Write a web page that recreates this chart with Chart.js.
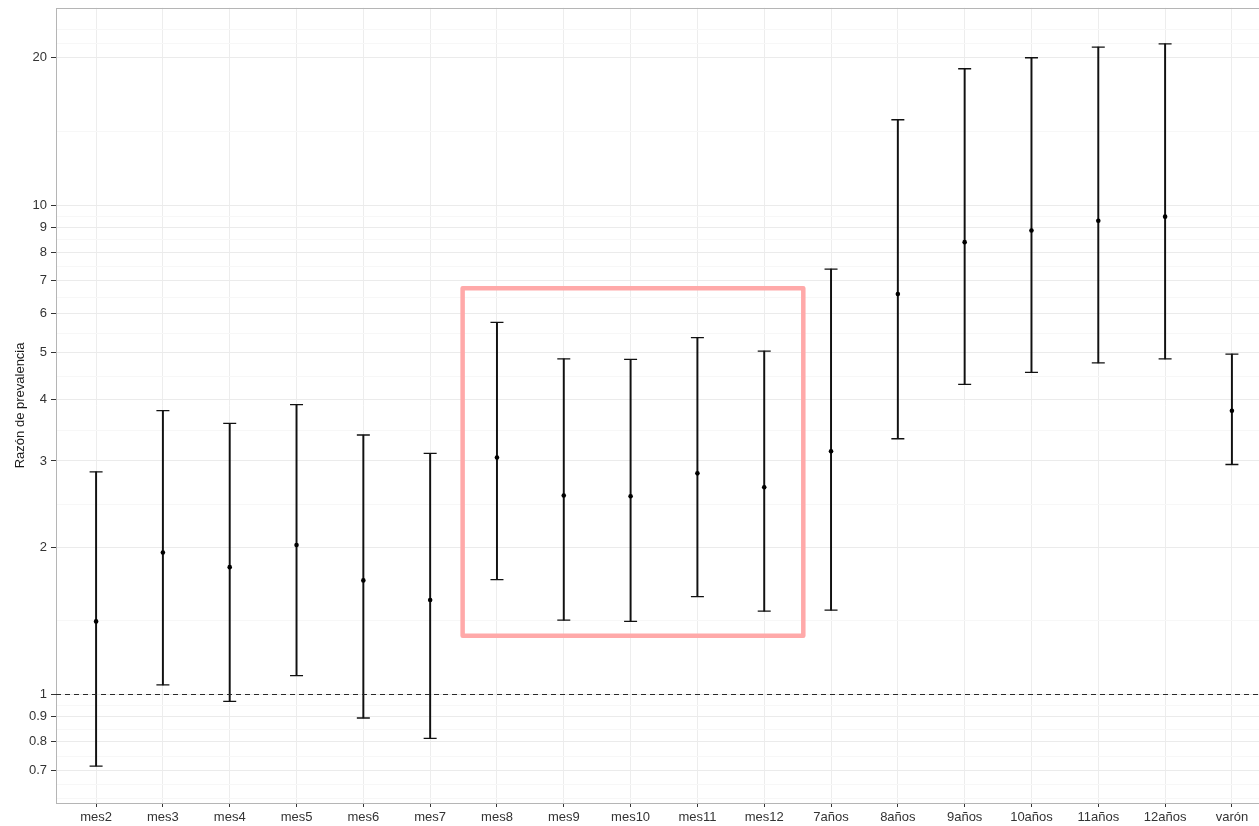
<!DOCTYPE html>
<html>
<head>
<meta charset="utf-8">
<script src="https://cdn.jsdelivr.net/npm/chart.js@4/dist/chart.umd.min.js"></script>
<style>
  html, body { margin: 0; padding: 0; background: #fff; overflow: hidden; }
  #wrap { width: 1280px; height: 826px; }
</style>
</head>
<body>
<div id="wrap"><canvas id="chart" width="1280" height="826"></canvas></div>
<script>
  // categories and estimates (prevalence ratio with CI)
  const categories = ['mes2','mes3','mes4','mes5','mes6','mes7','mes8','mes9','mes10','mes11','mes12',
                      '7años','8años','9años','10años','11años','12años','varón'];
  const estimate = [1.41, 1.95, 1.82, 2.02, 1.71, 1.56, 3.05, 2.55, 2.54, 2.83, 2.65,
                    3.14, 6.58, 8.40, 8.87, 9.29, 9.47, 3.80];
  const lower    = [0.714, 1.046, 0.968, 1.093, 0.895, 0.813, 1.717, 1.419, 1.410, 1.585, 1.480,
                    1.487, 3.33, 4.30, 4.55, 4.76, 4.85, 2.95];
  const upper    = [2.85, 3.80, 3.58, 3.91, 3.39, 3.11, 5.76, 4.85, 4.84, 5.36, 5.03,
                    7.40, 14.94, 18.99, 20.0, 21.03, 21.36, 4.96];

  const yTicks = [0.7, 0.8, 0.9, 1, 2, 3, 4, 5, 6, 7, 8, 9, 10, 20];
  const yMin = 0.604, yMax = 25.3;
  const refLine = 1;
  // highlighted block mes8..mes12 (x in category units, y in ratio units)
  const boxX = [5.486, 10.585];
  const boxY = [1.318, 6.765];

  // ggplot style minor breaks: midpoints in log space, extended one step beyond ends
  const logs = yTicks.map(v => Math.log10(v));
  const step = logs[1] - logs[0];
  const ext = [logs[0] - step, ...logs, logs[logs.length-1] + step];
  let minor = [];
  for(let i=0;i<ext.length-1;i++){
    minor.push((ext[i] + ext[i+1]) / 2);
  }
  minor.push(ext[0], ext[ext.length-1]);
  minor = minor.map(l => Math.pow(10, l)).filter(v => v > yMin && v < yMax);
  const allTicks = yTicks.concat(minor).sort((a,b)=>a-b);
  const isMajor = (v)=> yTicks.some(t => Math.abs(t - v) < 1e-9);

  const xy = (arr)=> arr.map((v,i)=> ({x: i, y: v}));

  const extras = {
    id: 'extras',
    beforeDatasetsDraw(chart){
      const {ctx, chartArea: a} = chart;
      ctx.save();
      ctx.strokeStyle = '#b5b5b5';
      ctx.lineWidth = 1;
      ctx.strokeRect(Math.round(a.left) + 0.5, Math.round(a.top) + 0.5, a.right - a.left, Math.round(a.bottom - a.top));
      ctx.restore();
    },
    afterDatasetsDraw(chart){
      const {ctx, chartArea: a, scales} = chart;
      const y1 = Math.round(scales.y.getPixelForValue(refLine)) + 0.5;
      ctx.save();
      ctx.strokeStyle = '#2a2a2a';
      ctx.lineWidth = 1.2;
      ctx.setLineDash([5, 4]);
      ctx.beginPath();
      ctx.moveTo(a.left, y1);
      ctx.lineTo(a.right, y1);
      ctx.stroke();
      ctx.setLineDash([]);
      const x0 = scales.x.getPixelForValue(boxX[0]);
      const x1 = scales.x.getPixelForValue(boxX[1]);
      const yt = scales.y.getPixelForValue(boxY[1]);
      const yb = scales.y.getPixelForValue(boxY[0]);
      ctx.strokeStyle = '#ffa9a9';
      ctx.lineWidth = 4.5;
      ctx.lineJoin = 'round';
      ctx.strokeRect(x0, yt, x1 - x0, yb - yt);
      ctx.restore();
    }
  };

  new Chart(document.getElementById('chart').getContext('2d'), {
    data: {
      datasets: [
        { type: 'scatter', data: xy(estimate), pointRadius: 2.3, pointBackgroundColor: '#000',
          pointBorderColor: '#000', pointBorderWidth: 0 },
        { type: 'scatter', data: xy(upper), pointStyle: 'line', pointRadius: 6.5,
          pointBorderColor: '#111', pointBorderWidth: 1.3 },
        { type: 'scatter', data: xy(lower), pointStyle: 'line', pointRadius: 6.5,
          pointBorderColor: '#111', pointBorderWidth: 1.3 },
        { type: 'bar', data: categories.map((c,i)=> ({x: i, y: [lower[i], upper[i]]})),
          backgroundColor: '#111', borderWidth: 0, barThickness: 1.3 }
      ]
    },
    options: {
      responsive: false,
      animation: false,
      devicePixelRatio: 1,
      layout: { padding: { left: 0, top: 6, right: 8, bottom: 0 } },
      plugins: { legend: { display: false }, tooltip: { enabled: false } },
      scales: {
        x: {
          type: 'linear',
          offset: false,
          min: -0.6,
          max: categories.length - 0.4,
          afterBuildTicks: (s)=>{ s.ticks = categories.map((c,i)=> ({value: i})); },
          afterFit: (s)=>{ s.height = 23; s.paddingLeft = 0; s.paddingRight = 0; },
          border: { display: false },
          grid: { offset: false, color: '#ededed', lineWidth: 1, tickLength: 4, tickColor: '#333' },
          ticks: {
            autoSkip: false, maxRotation: 0, padding: 3,
            color: '#333',
            font: { family: 'Liberation Sans, Arial, sans-serif', size: 13 },
            callback: (v)=> categories[v] ?? ''
          }
        },
        y: {
          type: 'logarithmic',
          min: yMin,
          max: yMax,
          afterBuildTicks: (s)=>{ s.ticks = allTicks.map(v => ({value: v})); },
          afterFit: (s)=>{ s.width = 56; s.paddingTop = 0; s.paddingBottom = 0; },
          border: { display: false },
          grid: {
            color: (c)=> isMajor(c.tick.value) ? '#ebebeb' : '#f7f7f7',
            tickColor: (c)=> isMajor(c.tick.value) ? '#333' : 'rgba(0,0,0,0)',
            lineWidth: 1,
            tickLength: 5
          },
          ticks: {
            autoSkip: false, padding: 4,
            color: '#333',
            font: { family: 'Liberation Sans, Arial, sans-serif', size: 13 },
            callback: (v)=> isMajor(v) ? String(v) : ''
          },
          title: {
            display: true,
            text: 'Razón de prevalencia',
            color: '#1a1a1a',
            padding: { top: 13, bottom: 0 },
            font: { family: 'Liberation Sans, Arial, sans-serif', size: 13 }
          }
        }
      }
    },
    plugins: [extras]
  });
</script>
</body>
</html>
